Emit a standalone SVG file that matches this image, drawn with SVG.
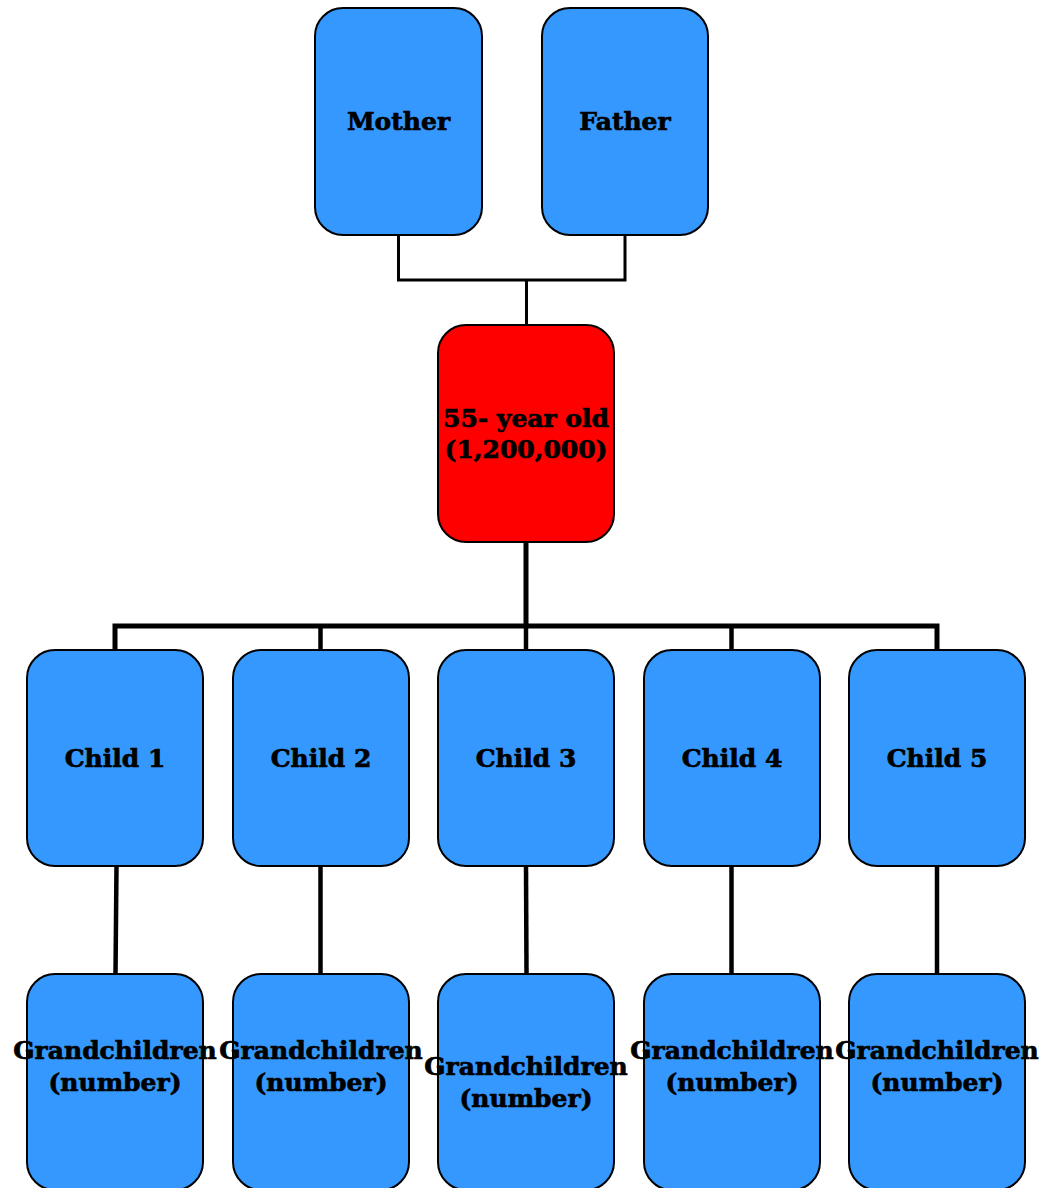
<svg xmlns="http://www.w3.org/2000/svg" width="1052" height="1188" viewBox="0 0 1052 1188">
<style>
.box{fill:#3598fe;stroke:#000;stroke-width:2}
.red{fill:#ff0000;stroke:#000;stroke-width:2}
.t{font-family:"DejaVu Serif","Liberation Serif",serif;font-weight:bold;font-size:25px;text-anchor:middle;fill:#000;stroke:#000;stroke-width:0.7px}
.c{fill:none;stroke:#000;stroke-linecap:butt}
</style>
<rect width="1052" height="1188" fill="#fff"/>
<g id="connectors">
<polyline class="c" stroke-width="3" points="398.5,235 398.5,280 625,280 625,235"/>
<line class="c" stroke-width="3" x1="526.5" y1="280" x2="526.5" y2="325"/>
<line class="c" stroke-width="5" x1="526" y1="542" x2="526" y2="626"/>
<polyline class="c" stroke-width="5" points="115,650 115,626 937,626 937,650"/>
<line class="c" stroke-width="4.5" x1="320.5" y1="626" x2="320.5" y2="650"/>
<line class="c" stroke-width="4.5" x1="526" y1="626" x2="526" y2="650"/>
<line class="c" stroke-width="4.5" x1="731.5" y1="626" x2="731.5" y2="650"/>
<line class="c" stroke-width="4.5" x1="116.5" y1="866" x2="115.5" y2="974"/>
<line class="c" stroke-width="4.5" x1="320.5" y1="866" x2="320.5" y2="974"/>
<line class="c" stroke-width="4.5" x1="526" y1="866" x2="526.5" y2="974"/>
<line class="c" stroke-width="4.5" x1="731.5" y1="866" x2="731.5" y2="974"/>
<line class="c" stroke-width="4.5" x1="937" y1="866" x2="937" y2="974"/>
</g>
<g id="mother"><rect class="box" x="315" y="8" width="167" height="227" rx="28"/><text class="t" x="398.5" y="130">Mother</text></g>
<g id="father"><rect class="box" x="542" y="8" width="166" height="227" rx="28"/><text class="t" x="625" y="130">Father</text></g>
<g id="self"><rect class="red" x="438" y="325" width="176" height="217" rx="28"/><text class="t" x="526" y="427">55- year old</text><text class="t" x="526" y="458">(1,200,000)</text></g>
<g id="child1"><rect class="box" x="27" y="650" width="176" height="216" rx="28"/><text class="t" x="115" y="767">Child 1</text></g>
<g id="child2"><rect class="box" x="233" y="650" width="176" height="216" rx="28"/><text class="t" x="321" y="767">Child 2</text></g>
<g id="child3"><rect class="box" x="438" y="650" width="176" height="216" rx="28"/><text class="t" x="526" y="767">Child 3</text></g>
<g id="child4"><rect class="box" x="644" y="650" width="176" height="216" rx="28"/><text class="t" x="732" y="767">Child 4</text></g>
<g id="child5"><rect class="box" x="849" y="650" width="176" height="216" rx="28"/><text class="t" x="937" y="767">Child 5</text></g>
<g id="grand1"><rect class="box" x="27" y="974" width="176" height="216" rx="28"/><text class="t" x="115" y="1059">Grandchildren</text><text class="t" x="115" y="1091">(number)</text></g>
<g id="grand2"><rect class="box" x="233" y="974" width="176" height="216" rx="28"/><text class="t" x="321" y="1059">Grandchildren</text><text class="t" x="321" y="1091">(number)</text></g>
<g id="grand3"><rect class="box" x="438" y="974" width="176" height="216" rx="28"/><text class="t" x="526" y="1075">Grandchildren</text><text class="t" x="526" y="1107">(number)</text></g>
<g id="grand4"><rect class="box" x="644" y="974" width="176" height="216" rx="28"/><text class="t" x="732" y="1059">Grandchildren</text><text class="t" x="732" y="1091">(number)</text></g>
<g id="grand5"><rect class="box" x="849" y="974" width="176" height="216" rx="28"/><text class="t" x="937" y="1059">Grandchildren</text><text class="t" x="937" y="1091">(number)</text></g>
</svg>
